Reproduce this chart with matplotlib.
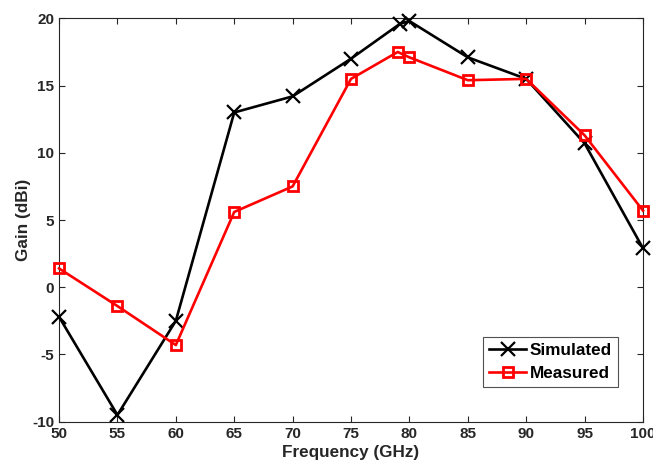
import matplotlib.pyplot as plt

plt.rcParams['font.family'] = ['Liberation Sans', 'DejaVu Sans']
plt.rcParams['font.weight'] = 'bold'
plt.rcParams['axes.unicode_minus'] = False

freq_sim = [50, 55, 60, 65, 70, 75, 79.2, 80, 85, 90, 95, 100]
gain_sim = [-2.2, -9.5, -2.5, 13.0, 14.2, 17.0, 19.6, 19.8, 17.1, 15.5, 10.7, 2.9]

freq_meas = [50, 55, 60, 65, 70, 75, 79, 80, 85, 90, 95, 100]
gain_meas = [1.4, -1.4, -4.3, 5.6, 7.5, 15.5, 17.5, 17.1, 15.4, 15.5, 11.3, 5.7]

xticks = list(range(50, 101, 5))
yticks = list(range(-10, 21, 5))

fig = plt.figure(figsize=(6.53, 4.71), dpi=100)
ax = fig.add_axes([0.0904, 0.1047, 0.8943, 0.8563])

ax.plot(freq_sim, gain_sim, color='black', lw=1.9, marker='x',
        markersize=10, mew=1.6, label='Simulated', clip_on=False, zorder=3)
ax.plot(freq_meas, gain_meas, color='red', lw=1.9, marker='s',
        markersize=7, mew=2, mfc='none', label='Measured', clip_on=False, zorder=4)

ax.set_xlim(50, 100)
ax.set_ylim(-10, 20)
ax.set_xticks(xticks)
ax.set_yticks(yticks)
ax.tick_params(direction='in', top=True, right=True, length=4,
               labelsize=11, colors='#262626', width=0.8)
for lab in ax.get_xticklabels() + ax.get_yticklabels():
    lab.set_fontweight('bold')
for s in ax.spines.values():
    s.set_color('#262626')
    s.set_linewidth(0.8)

ax.set_xlabel('Frequency (GHz)', fontsize=12.3, fontweight='bold', color='#262626', labelpad=3)
ax.set_ylabel('Gain (dBi)', fontsize=12.3, fontweight='bold', color='#262626', labelpad=1)

leg = ax.legend(loc='lower right', bbox_to_anchor=(0.957, 0.086), borderaxespad=0,
                fontsize=12.3, frameon=True, fancybox=False, edgecolor='#262626',
                handlelength=2.2, borderpad=0.35, labelspacing=0.45, handletextpad=0.2)
leg.get_frame().set_linewidth(0.8)
for t in leg.get_texts():
    t.set_fontweight('bold')

fig.savefig('out.png', dpi=100)
